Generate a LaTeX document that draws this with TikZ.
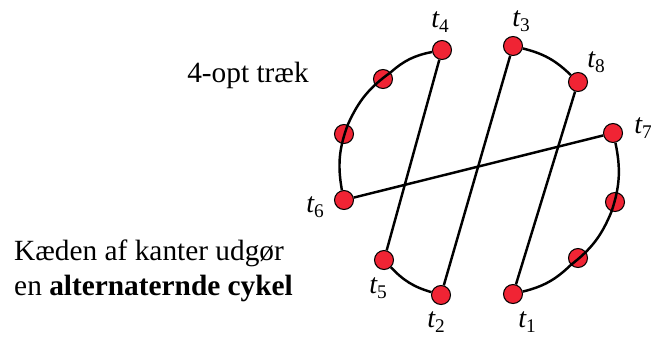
\documentclass[tikz,border=0pt]{standalone}
\usepackage{fontspec}
\setmainfont{Liberation Serif}
\definecolor{dotred}{RGB}{240,36,52}
\newcommand{\tlab}[1]{{\fontsize{16}{16}\selectfont\itshape t}\raisebox{-.55ex}{\fontsize{11}{11}\selectfont #1}}

\begin{document}
\begin{tikzpicture}[x=0.02cm,y=-0.02cm,line width=1.4pt,
  dot/.style={circle,draw,line width=.6pt,fill=dotred,minimum size=0.38cm,inner sep=0pt},
  txt/.style={font=\fontsize{16.7}{20}\selectfont},
  lab/.style={inner sep=0pt}]
\useasboundingbox (0,0) rectangle (651,336);
% tour nodes
\node[dot] (t4) at (442,50) {};
\node[dot] (a1) at (383,79) {};
\node[dot] (a2) at (344,134) {};
\node[dot] (t6) at (344,200) {};
\node[dot] (t5) at (384,260) {};
\node[dot] (t2) at (441,295) {};
\node[dot] (t1) at (513,294) {};
\node[dot] (b2) at (578,258) {};
\node[dot] (b1) at (615,202) {};
\node[dot] (t7) at (613,133) {};
\node[dot] (t8) at (578,82) {};
\node[dot] (t3) at (513,46) {};
% remaining tour arcs
\draw (t4) to[bend right=15] (a1) to[bend right=15] (a2) to[bend right=15] (t6);
\draw (t5) to[bend right=15] (t2);
\draw (t1) to[bend right=15] (b2) to[bend right=15] (b1) to[bend right=15] (t7);
\draw (t3) to[bend left=15] (t8);
% new edges
\draw (t4) -- (t5);
\draw (t3) -- (t2);
\draw (t8) -- (t1);
\draw (t6) -- (t7);
% labels
\node[lab] (l1) at (527,322) {\tlab{1}};
\node[lab] (l2) at (436,322) {\tlab{2}};
\node[lab] (l3) at (521,21) {\tlab{3}};
\node[lab] (l4) at (440,22) {\tlab{4}};
\node[lab] (l5) at (378,288) {\tlab{5}};
\node[lab] (l6) at (315,207) {\tlab{6}};
\node[lab] (l7) at (643,128) {\tlab{7}};
\node[lab] (l8) at (596,62) {\tlab{8}};
\node[txt] (title) at (248,75) {4-opt træk};
\node[txt,anchor=west,align=left,inner sep=0pt] (note) at (13,271) {Kæden af kanter udgør\\en \textbf{alternaternde cykel}};
\end{tikzpicture}
\end{document}
